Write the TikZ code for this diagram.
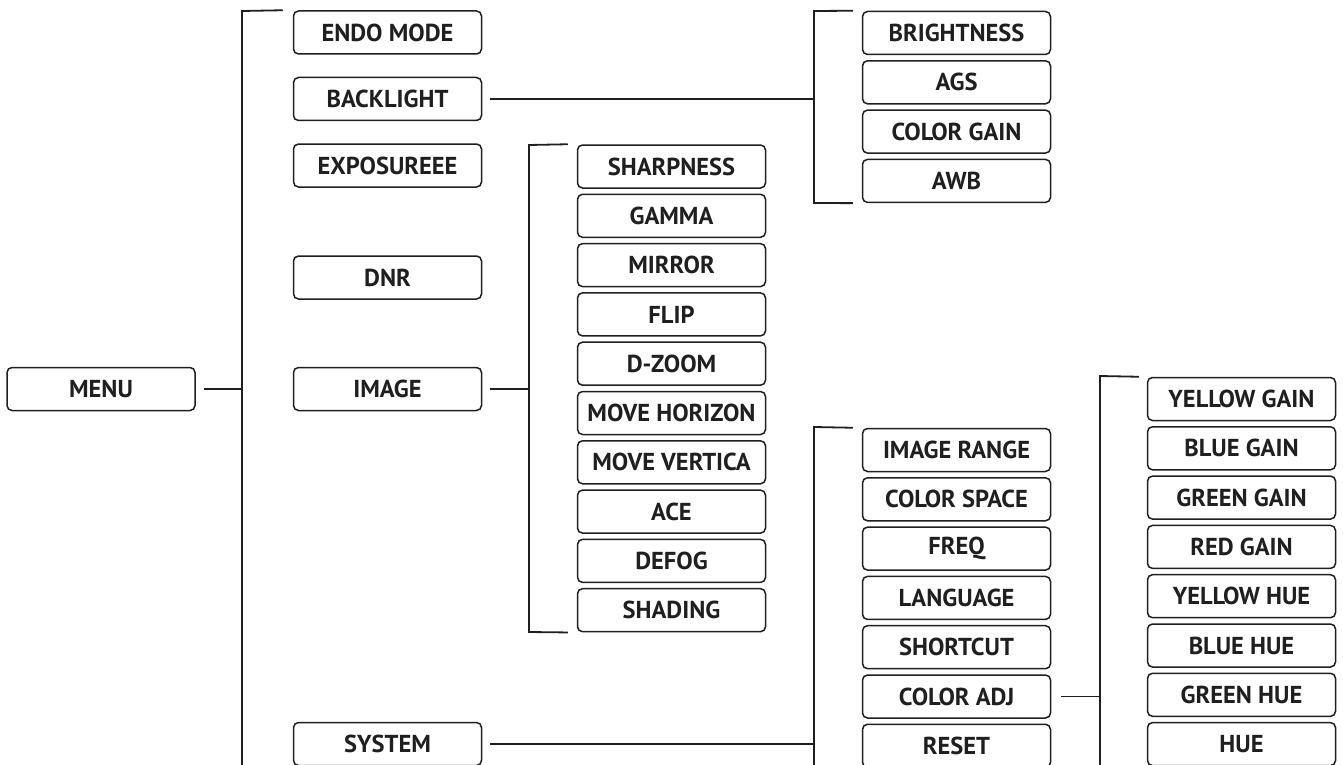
\documentclass[tikz,border=0pt]{standalone}
\usepackage{fontspec}
\setmainfont{PT Sans}
\begin{document}
\begin{tikzpicture}[x=1pt,y=-1pt,
  box/.style={draw=black!88, line width=1.5pt, rounded corners=5pt, minimum width=188pt, minimum height=43pt, inner sep=0pt, font=\fontsize{24.5}{26}\selectfont\bfseries, text=black!88},
  conn/.style={draw=black!88, line width=1.8pt}]
\useasboundingbox (0,0) rectangle (1343,765);
\clip (0,0) rectangle (1343,765);
% root
\node[box] (menu) at (101,389) {MENU};
% level 1
\node[box] (endo) at (387.5,32.5) {ENDO MODE};
\node[box] (backlight) at (387.5,99) {BACKLIGHT};
\node[box] (expo) at (387.5,165.5) {EXPOSUREEE};
\node[box] (dnr) at (387.5,277.5) {DNR};
\node[box] (image) at (387.5,389) {IMAGE};
\node[box] (system) at (387.5,744) {SYSTEM};
% backlight group
\foreach \n/\t [count=\i from 0] in {b1/BRIGHTNESS,b2/AGS,b3/COLOR GAIN,b4/AWB}
  \node[box] (\n) at (956.5,{33+\i*49.3}) {\t};
% image group
\foreach \n/\t [count=\i from 0] in {i1/SHARPNESS,i2/GAMMA,i3/MIRROR,i4/FLIP,i5/D-ZOOM,i6/MOVE HORIZON,i7/MOVE VERTICA,i8/ACE,i9/DEFOG,i10/SHADING}
  \node[box] (\n) at (671.5,{166.5+\i*49.3}) {\t};
% system group
\foreach \n/\t [count=\i from 0] in {s1/IMAGE RANGE,s2/COLOR SPACE,s3/FREQ,s4/LANGUAGE,s5/SHORTCUT,s6/COLOR ADJ,s7/RESET}
  \node[box] (\n) at (956.5,{450+\i*49.3}) {\t};
% color adj group
\foreach \n/\t [count=\i from 0] in {h1/YELLOW GAIN,h2/BLUE GAIN,h3/GREEN GAIN,h4/RED GAIN,h5/YELLOW HUE,h6/BLUE HUE,h7/GREEN HUE,h8/HUE}
  \node[box] (\n) at (1241.5,{399+\i*49.3}) {\t};
% bracket coordinates
\coordinate (mtop) at (242,11);
\coordinate (mbot) at (242,770);
\coordinate (btop) at (814,11);
\coordinate (bbot) at (814,203);
\coordinate (itop) at (529,145);
\coordinate (ibot) at (529,632);
\coordinate (stop) at (814,427);
\coordinate (sbot) at (814,770);
\coordinate (htop) at (1100,376);
\coordinate (hbot) at (1100,770);
% main bracket
\draw[conn] ([xshift=-10pt]endo.north west) -- (mtop) -- (mbot);
\draw[conn] ([xshift=8pt]menu.east) -- (menu.east -| mtop);
% backlight bracket
\draw[conn] ([xshift=-9pt]b1.north west) -- (btop) -- (bbot) -- ([xshift=-9pt]b4.south west);
\draw[conn] ([xshift=8pt]backlight.east) -- (backlight.east -| btop);
% image bracket
\draw[conn] ([xshift=-9pt]i1.north west) -- (itop) -- (ibot) -- ([xshift=-9pt]i10.south west);
\draw[conn] ([xshift=8pt]image.east) -- (image.east -| itop);
% system bracket
\draw[conn] ([xshift=-9pt]s1.north west) -- (stop) -- (sbot);
\draw[conn] ([xshift=8pt]system.east) -- (system.east -| stop);
% color adj bracket
\draw[conn] ([xshift=-8pt]h1.north west) -- (htop) -- (hbot);
\draw[conn] ([xshift=10pt]s6.east) -- (s6.east -| htop);
\end{tikzpicture}
\end{document}
